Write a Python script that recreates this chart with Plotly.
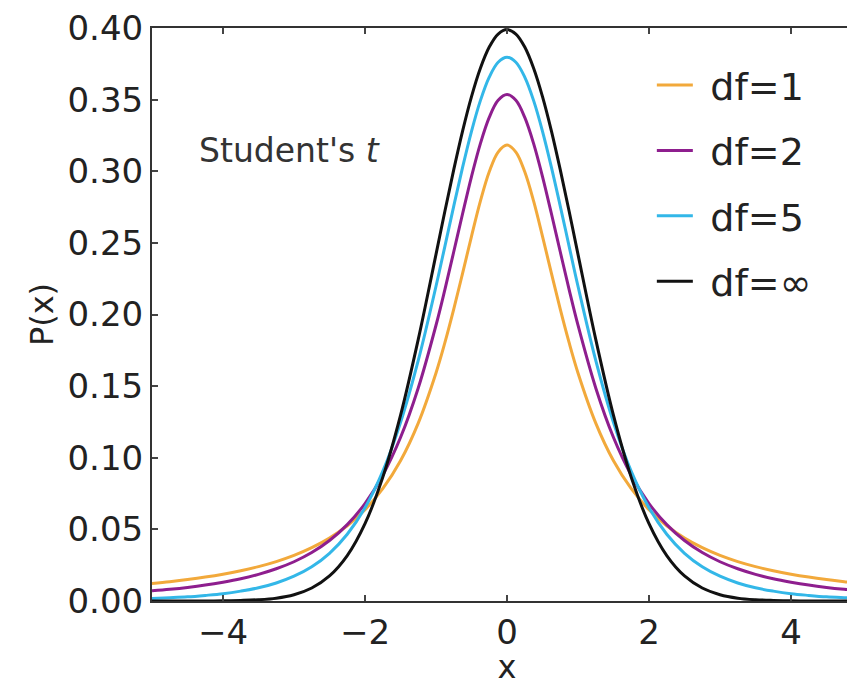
import plotly.graph_objects as go

x = [-5.0, -4.75, -4.5, -4.25, -4.0, -3.75, -3.5, -3.25, -3.0, -2.75, -2.5, -2.25, -2.0, -1.75, -1.5, -1.25,
     -1.0, -0.875, -0.75, -0.625, -0.5, -0.375, -0.25, -0.125,
     0.0, 0.125, 0.25, 0.375, 0.5, 0.625, 0.75, 0.875, 1.0,
     1.25, 1.5, 1.75, 2.0, 2.25, 2.5, 2.75, 3.0, 3.25, 3.5, 3.75, 4.0, 4.25, 4.5, 4.75, 5.0]

p_df1 = [0.0122, 0.0135, 0.0150, 0.0167, 0.0187, 0.0211, 0.0240, 0.0275, 0.0318, 0.0372, 0.0439, 0.0525, 0.0637, 0.0784, 0.0979, 0.1242,
         0.1592, 0.1803, 0.2037, 0.2289, 0.2546, 0.2791, 0.2996, 0.3134,
         0.3183, 0.3134, 0.2996, 0.2791, 0.2546, 0.2289, 0.2037, 0.1803, 0.1592,
         0.1242, 0.0979, 0.0784, 0.0637, 0.0525, 0.0439, 0.0372, 0.0318, 0.0275, 0.0240, 0.0211, 0.0187, 0.0167, 0.0150, 0.0135, 0.0122]
p_df2 = [0.0071, 0.0082, 0.0095, 0.0111, 0.0131, 0.0155, 0.0186, 0.0225, 0.0274, 0.0338, 0.0422, 0.0533, 0.0680, 0.0878, 0.1141, 0.1487,
         0.1925, 0.2174, 0.2438, 0.2705, 0.2963, 0.3193, 0.3376, 0.3495,
         0.3536, 0.3495, 0.3376, 0.3193, 0.2963, 0.2705, 0.2438, 0.2174, 0.1925,
         0.1487, 0.1141, 0.0878, 0.0680, 0.0533, 0.0422, 0.0338, 0.0274, 0.0225, 0.0186, 0.0155, 0.0131, 0.0111, 0.0095, 0.0082, 0.0071]
p_df5 = [0.0018, 0.0023, 0.0029, 0.0039, 0.0051, 0.0069, 0.0092, 0.0126, 0.0173, 0.0239, 0.0333, 0.0466, 0.0651, 0.0905, 0.1245, 0.1679,
         0.2197, 0.2476, 0.2757, 0.3029, 0.3279, 0.3493, 0.3657, 0.3761,
         0.3796, 0.3761, 0.3657, 0.3493, 0.3279, 0.3029, 0.2757, 0.2476, 0.2197,
         0.1679, 0.1245, 0.0905, 0.0651, 0.0466, 0.0333, 0.0239, 0.0173, 0.0126, 0.0092, 0.0069, 0.0051, 0.0039, 0.0029, 0.0023, 0.0018]
p_inf = [0.0000, 0.0000, 0.0000, 0.0000, 0.0001, 0.0004, 0.0009, 0.0020, 0.0044, 0.0091, 0.0175, 0.0317, 0.0540, 0.0863, 0.1295, 0.1826,
         0.2420, 0.2721, 0.3011, 0.3282, 0.3521, 0.3719, 0.3867, 0.3958,
         0.3989, 0.3958, 0.3867, 0.3719, 0.3521, 0.3282, 0.3011, 0.2721, 0.2420,
         0.1826, 0.1295, 0.0863, 0.0540, 0.0317, 0.0175, 0.0091, 0.0044, 0.0020, 0.0009, 0.0004, 0.0001, 0.0000, 0.0000, 0.0000, 0.0000]

names = ["df=1", "df=2", "df=5", "df=∞"]
series = [p_df1, p_df2, p_df5, p_inf]
colors = ["#F2A93B", "#8E1E8E", "#33B7E8", "#111111"]

x_ticks = [-4, -2, 0, 2, 4]
x_ticktext = ["\u22124", "\u22122", "0", "2", "4"]
y_ticks = [0.00, 0.05, 0.10, 0.15, 0.20, 0.25, 0.30, 0.35, 0.40]

fig = go.Figure()
for i, (n, s, c) in enumerate(zip(names, series, colors)):
    fig.add_trace(go.Scatter(x=x, y=s, mode="lines", name="\u2004" + n,
                             line=dict(color=c, width=3, shape="spline"), legendgroup=str(i)))

font = "DejaVu Sans"
fig.update_layout(
    width=854, height=678,
    margin=dict(l=144, r=0, t=20, b=85),
    paper_bgcolor="white", plot_bgcolor="white",
    showlegend=True,
    legend=dict(x=0.704, y=0.955, xanchor="left", yanchor="top", bgcolor="rgba(0,0,0,0)",
                font=dict(family=font, size=38, color="#222"), tracegroupgap=13, itemwidth=36,
                traceorder="grouped"),
    xaxis=dict(range=[-5, 5], tickvals=x_ticks, ticktext=x_ticktext, ticks="inside", ticklen=6,
               tickcolor="#444", tickwidth=1.5, showline=True, linecolor="#333", linewidth=2, mirror="ticks",
               showgrid=False, zeroline=False, tickfont=dict(family=font, size=34, color="#222"),
               ticklabeloverflow="allow",
               title=dict(text="x", font=dict(family=font, size=32, color="#222"), standoff=0)),
    yaxis=dict(range=[0, 0.40], tickvals=y_ticks, tickformat=".2f", ticks="inside", ticklen=6,
               tickcolor="#444", tickwidth=1.5, showline=True, linecolor="#333", linewidth=2, mirror=False,
               showgrid=False, zeroline=False, tickfont=dict(family=font, size=34, color="#222"),
               ticklabelstandoff=0, ticklabeloverflow="allow",
               title=dict(text="P(x)", font=dict(family=font, size=32, color="#222"), standoff=4)),
    annotations=[dict(text="Student's <i>t</i>", x=0.063, y=0.787, xref="paper", yref="paper",
                      xanchor="left", yanchor="middle", showarrow=False,
                      font=dict(family=font, size=33, color="#333"))],
)
fig.write_html("out.html")
